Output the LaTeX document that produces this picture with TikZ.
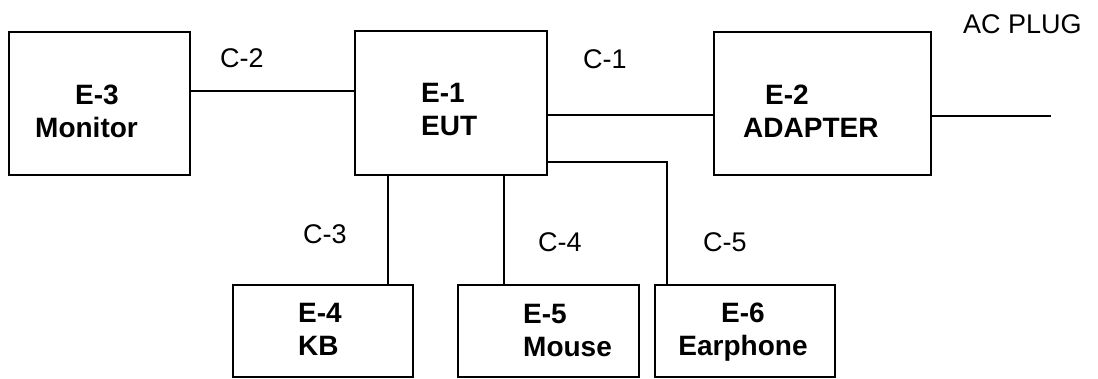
\documentclass[tikz,border=0pt]{standalone}
\usepackage{fontspec}
\setmainfont{Liberation Sans}
\begin{document}
\begin{tikzpicture}[x=1pt, y=-1pt,
    blocco/.style={draw, line width=1.2pt, inner sep=0pt},
    cavo/.style={line width=1.2pt},
    nome/.style={font=\bfseries\fontsize{28}{33}\selectfont, align=left, anchor=base west, inner sep=0pt},
    sigla/.style={font=\fontsize{27}{32}\selectfont, anchor=base west, inner sep=0pt}]
    \useasboundingbox (0,0) rectangle (1098,378);
    %disegno blocchi
    \node[blocco, minimum width=181pt, minimum height=143pt] (mon) at (99.5,103.5) {};
    \node[blocco, minimum width=192pt, minimum height=144pt] (eut) at (451,103) {};
    \node[blocco, minimum width=217pt, minimum height=143pt] (adp) at (822.5,103.5) {};
    \node[blocco, minimum width=180pt, minimum height=92pt] (kb) at (323,331) {};
    \node[blocco, minimum width=181pt, minimum height=92pt] (mouse) at (548.5,331) {};
    \node[blocco, minimum width=180pt, minimum height=92pt] (ear) at (745,331) {};
    %nomi blocchi (ancorati alla seconda riga)
    \node[nome] (mon-t) at (35,137) {\hspace*{40pt}E-3\\Monitor};
    \node[nome] (eut-t) at (421,135) {E-1\\EUT};
    \node[nome] (adp-t) at (743,137) {\hspace*{22pt}E-2\\ADAPTER};
    \node[nome] (kb-t) at (298,355) {E-4\\KB};
    \node[nome] (mouse-t) at (523,356) {E-5\\Mouse};
    \node[nome, align=center, anchor=base] (ear-t) at (743,355) {E-6\\Earphone};
    %cavi
    \coordinate (plug) at (1051,116);
    \draw[cavo] ([yshift=12.5pt]mon.east) -- ([yshift=12.5pt]mon.east -| eut.west);
    \draw[cavo] ([yshift=-12pt]eut.east) -- ([yshift=-12pt]eut.east -| adp.west);
    \draw[cavo] ([yshift=-12.5pt]adp.east) -- (plug);
    \draw[cavo] ([xshift=65pt]kb.north) -- ([xshift=65pt]kb.north |- eut.south);
    \draw[cavo] ([xshift=-44.5pt]mouse.north) -- ([xshift=-44.5pt]mouse.north |- eut.south);
    \draw[cavo] ([yshift=-59pt]eut.east) -| ([xshift=-78pt]ear.north);
    %sigle cavi
    \node[sigla] (c2) at (220,67) {C-2};
    \node[sigla] (c1) at (583,68) {C-1};
    \node[sigla] (plug-t) at (963,33) {AC PLUG};
    \node[sigla] (c3) at (303,243) {C-3};
    \node[sigla] (c4) at (538,251) {C-4};
    \node[sigla] (c5) at (703,251) {C-5};
\end{tikzpicture}
\end{document}
